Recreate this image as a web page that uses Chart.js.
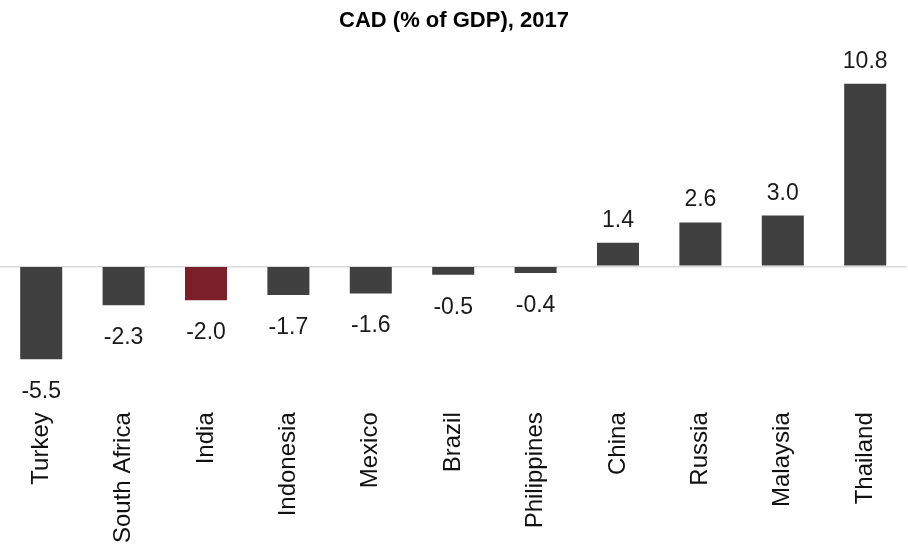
<!DOCTYPE html>
<html>
<head>
<meta charset="utf-8">
<title>CAD (% of GDP), 2017</title>
<script src="https://cdn.jsdelivr.net/npm/chart.js@4.4.1/dist/chart.umd.min.js"></script>
<style>
    html, body { margin: 0; padding: 0; background: #fff; }
    #wrap { width: 908px; height: 557px; position: relative; }
</style>
</head>
<body>
<div id="wrap"><canvas id="cadChart"></canvas></div>
<script>
// current account balance, % of GDP
const countries = ['Turkey', 'South Africa', 'India', 'Indonesia', 'Mexico', 'Brazil',
    'Philippines', 'China', 'Russia', 'Malaysia', 'Thailand'];
const cadValues = [-5.5, -2.3, -2.0, -1.7, -1.6, -0.5, -0.4, 1.4, 2.6, 3.0, 10.8];
const highlight = 'India';

const FONT = "'Liberation Sans', Arial, sans-serif";
const barColors = countries.map(c => c === highlight ? '#7b1f2a' : '#404040');

// value labels above / below each bar
const valueLabels = {
    id: 'valueLabels',
    afterDatasetsDraw(chart) {
        const ctx = chart.ctx;
        const meta = chart.getDatasetMeta(0);
        ctx.save();
        ctx.font = '23px ' + FONT;
        ctx.fillStyle = '#1a1a1a';
        ctx.textAlign = 'center';
        ctx.textBaseline = 'alphabetic';
        meta.data.forEach((bar, i) => {
            const v = cadValues[i];
            const y = v >= 0 ? bar.y - 16 : bar.y + 39;
            ctx.fillText(v.toFixed(1), bar.x, y);
        });
        ctx.restore();
    }
};

const ctx = document.getElementById('cadChart').getContext('2d');
const cadChart = new Chart(ctx, {
    type: 'bar',
    data: {
        labels: countries,
        datasets: [{
            data: cadValues,
            backgroundColor: barColors,
            barPercentage: 0.51,
            categoryPercentage: 1.0
        }]
    },
    options: {
        responsive: true,
        maintainAspectRatio: false,
        animation: false,
        layout: { padding: { left: 0, right: 0, top: 0, bottom: 0 } },
        plugins: {
            legend: { display: false },
            tooltip: { enabled: false },
            title: {
                display: true,
                text: 'CAD (% of GDP), 2017',
                color: '#000',
                font: { family: FONT, size: 22, weight: 'bold' },
                padding: { top: 8, bottom: 29 }
            }
        },
        scales: {
            x: {
                grid: { display: false, drawTicks: false },
                border: { display: false },
                ticks: {
                    autoSkip: false,
                    minRotation: 90,
                    maxRotation: 90,
                    padding: 14,
                    color: '#111',
                    font: { family: FONT, size: 24 }
                }
            },
            y: {
                min: -7.8,
                max: 12,
                ticks: { display: false },
                border: { display: false },
                grid: {
                    drawTicks: false,
                    lineWidth: 1.5,
                    color: c => c.tick && c.tick.value === 0 ? '#d9d9d9' : 'rgba(0,0,0,0)'
                }
            }
        }
    },
    plugins: [valueLabels]
});
</script>
</body>
</html>
